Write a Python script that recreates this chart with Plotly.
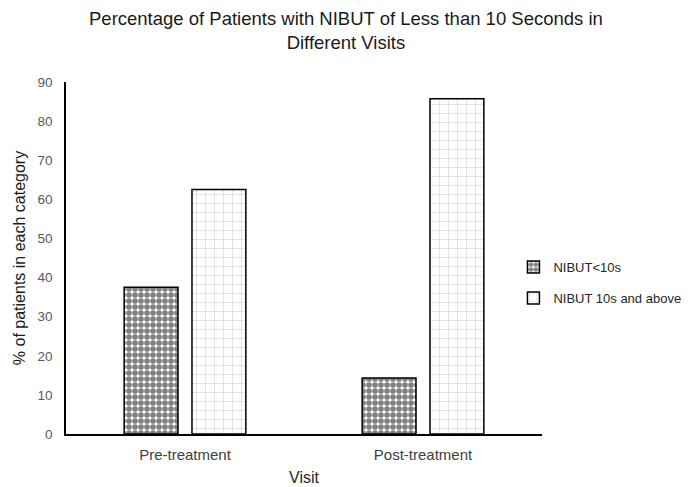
import plotly.graph_objects as go

visits = ["Pre-treatment", "Post-treatment"]
nibut_lt10 = [37.5, 14.3]
nibut_ge10 = [62.5, 85.7]
series_names = ["NIBUT<10s", "NIBUT 10s and above"]
y_ticks = [0, 10, 20, 30, 40, 50, 60, 70, 80, 90]
title_text = "Percentage of Patients with NIBUT of Less than 10 Seconds in<br>Different Visits"

fig = go.Figure()
fig.add_trace(go.Bar(
    x=visits, y=nibut_lt10, name=series_names[0], legendgroup="a",
    marker=dict(color="white", line=dict(color="black", width=1.5),
                pattern=dict(shape=".", fgcolor="#000000", bgcolor="white", size=6, solidity=0.7)),
))
fig.add_trace(go.Bar(
    x=visits, y=nibut_ge10, name=series_names[1], legendgroup="b",
    marker=dict(color="white", line=dict(color="black", width=1.5),
                pattern=dict(shape="+", fgcolor="#999999", bgcolor="white", size=9, solidity=0.12)),
))

fig.update_layout(
    width=692, height=487,
    margin=dict(l=66, r=150, t=82, b=53, autoexpand=False),
    paper_bgcolor="white", plot_bgcolor="white",
    barmode="group", bargap=0.43, bargroupgap=0.206,
    font=dict(family="Liberation Sans, Arial, sans-serif", color="#404040", size=14),
    xaxis=dict(showline=True, linecolor="black", linewidth=1.5, ticks="", showgrid=False,
               automargin=False, ticklabelstandoff=6,
               tickfont=dict(size=15, color="#404040"),
               title=dict(text="Visit", font=dict(size=16, color="#262626"), standoff=10)),
    yaxis=dict(range=[0, 90], tickvals=y_ticks, showline=True, linecolor="black", linewidth=1.5,
               ticks="", showgrid=False, zeroline=False, automargin=False, ticklabelstandoff=9,
               tickfont=dict(size=13.5, color="#595959"),
               title=dict(text="% of patients in each category", font=dict(size=16, color="#1a1a1a"), standoff=8)),
    legend=dict(x=0.94, xanchor="left", y=0.43, yanchor="middle", tracegroupgap=11,
                font=dict(size=13, color="#262626"), bgcolor="rgba(0,0,0,0)"),
)
fig.add_annotation(text=title_text, xref="paper", yref="paper", x=0.588, y=1.145,
                   xanchor="center", yanchor="middle", showarrow=False, align="center",
                   font=dict(family="Liberation Sans, Arial, sans-serif",
                             size=18.5, color="#1a1a1a"))

fig.write_html("out.html", config={"displayModeBar": False},
               post_script="document.body.style.margin='0px';")
